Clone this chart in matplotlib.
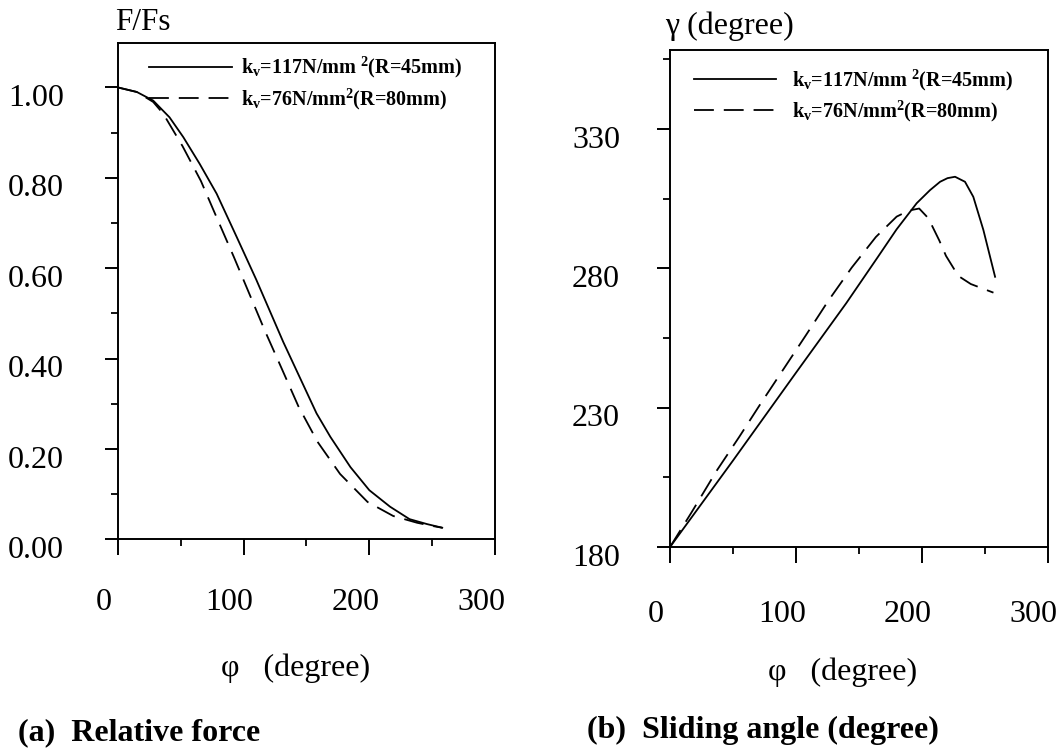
import matplotlib
matplotlib.use("Agg")
import matplotlib.pyplot as plt
from matplotlib.transforms import ScaledTranslation

# ---------------- data ----------------
phi_F_117 = [0, 15, 28, 41, 52, 65, 78.5, 94.5, 110, 131.5, 158, 169, 185, 200, 216.5, 232, 246, 258]
F_117 = [1.000, 0.990, 0.971, 0.934, 0.890, 0.831, 0.765, 0.669, 0.575, 0.437, 0.279, 0.227,
         0.160, 0.109, 0.0725, 0.045, 0.034, 0.026]

phi_F_76 = [0, 15, 28, 36, 51.4, 66, 79.2, 92.2, 117, 130.3, 143.5, 158.8, 176.7, 198.6, 219, 238, 250, 258]
F_76 = [1.000, 0.990, 0.968, 0.942, 0.870, 0.793, 0.708, 0.625, 0.461, 0.378, 0.295, 0.216,
        0.145, 0.083, 0.052, 0.037, 0.030, 0.026]

phi_g_117 = [0, 50, 100, 140, 165, 180, 196, 206.6, 214.6, 220.5, 226.5, 234.4, 241, 249, 258.3]
g_117 = [180, 211, 242.5, 267.5, 284, 294, 303.4, 308.1, 311.1, 312.4, 312.9, 311.1, 305.7, 293.8, 277]

phi_g_76 = [0, 17.2, 37.1, 55.1, 72.5, 90.1, 108.1, 125.8, 144.4, 163.6, 180.1, 190, 198,
            205.3, 214, 219.3, 229.1, 239, 257]
g_76 = [180, 192.5, 207.4, 219.6, 231.8, 243.8, 256.1, 268.4, 280.3, 291.3, 298.6, 300.8, 301.5,
        298, 290, 284.5, 277.3, 274.4, 271.3]

label_117 = r"k$_{v}$=117N/mm $^{2}$(R=45mm)"
label_76 = r"k$_{v}$=76N/mm$^{2}$(R=80mm)"

x_ticks = [0, 100, 200, 300]
x_minor = [50, 150, 250]
F_ticks = [0.0, 0.2, 0.4, 0.6, 0.8, 1.0]
F_minor = [0.1, 0.3, 0.5, 0.7, 0.9]
g_ticks = [180, 230, 280, 330]
g_minor = [205, 255, 305, 355]

# ---------------- style ----------------
plt.rcParams['font.family'] = ['Liberation Serif', 'DejaVu Serif']
plt.rcParams['mathtext.default'] = 'regular'

fig = plt.figure(figsize=(10.62, 7.52), dpi=100)
ax1 = fig.add_axes([0.1111, 0.2826, 0.3550, 0.6606])
ax2 = fig.add_axes([0.6309, 0.2726, 0.3555, 0.6609])

lw = 1.3
dash = (0, (11, 5.5))

def style_axes(ax, yticks, yminor, ylim, xpad, ypad, fmt):
    ax.set_xlim(0, 300)
    ax.set_ylim(*ylim)
    ax.set_xticks(x_ticks)
    ax.set_xticks(x_minor, minor=True)
    ax.set_yticks(yticks)
    ax.set_yticks(yminor, minor=True)
    ax.set_xticklabels([str(v) for v in x_ticks])
    ax.set_yticklabels([fmt.format(v) for v in yticks])
    for s in ax.spines.values():
        s.set_linewidth(1.4)
    ax.tick_params(axis='x', which='major', direction='out', length=11.5, width=1.4,
                   pad=xpad, labelsize=23)
    ax.tick_params(axis='x', which='minor', direction='out', length=5, width=1.3)
    ax.tick_params(axis='y', which='major', direction='out', length=9.4, width=1.4,
                   pad=ypad, labelsize=23)
    ax.tick_params(axis='y', which='minor', direction='out', length=5, width=1.3)
    offx = ScaledTranslation(-0.14, 0, fig.dpi_scale_trans)
    for lab in ax.get_xticklabels():
        lab.set_transform(lab.get_transform() + offx)
    offy = ScaledTranslation(0, -0.075, fig.dpi_scale_trans)
    for lab in ax.get_yticklabels():
        lab.set_transform(lab.get_transform() + offy)

legend_font = {'family': 'Liberation Serif', 'weight': 'bold', 'size': 14.5}

# ---------------- panel (a) ----------------
ax1.plot(phi_F_117, F_117, color='black', lw=lw, label=label_117)
ax1.plot(phi_F_76, F_76, color='black', lw=lw, linestyle=dash, label=label_76)
style_axes(ax1, F_ticks, F_minor, (0, 1.099), 23.5, 29.5, "{:.2f}")
ax1.legend(loc='upper left', bbox_to_anchor=(0.083, 0.975), frameon=False,
           prop=legend_font, handlelength=4.1, handletextpad=0.45, borderpad=0,
           borderaxespad=0, labelspacing=0.3)

# ---------------- panel (b) ----------------
ax2.plot(phi_g_117, g_117, color='black', lw=lw, label=label_117)
ax2.plot(phi_g_76, g_76, color='black', lw=lw, linestyle=dash, label=label_76)
style_axes(ax2, g_ticks, g_minor, (180, 358.4), 27, 26.6, "{:d}")
ax2.legend(loc='upper left', bbox_to_anchor=(0.063, 0.965), frameon=False,
           prop=legend_font, handlelength=4.1, handletextpad=0.8, borderpad=0,
           borderaxespad=0, labelspacing=0.3)

# ---------------- labels ----------------
fig.text(115 / 1062, 1 - 22 / 752, "F/Fs", fontsize=22.5, ha='left', va='center')
fig.text(665 / 1062, 1 - 26 / 752, "\u03b3 (degree)", fontsize=23, ha='left', va='center')
fig.text(296 / 1062, 1 - 668 / 752, "\u03c6   (degree)", fontsize=23, ha='center', va='center')
fig.text(843 / 1062, 1 - 672 / 752, "\u03c6   (degree)", fontsize=23, ha='center', va='center')
fig.text(18 / 1062, 1 - 733 / 752, "(a)  Relative force", fontsize=23, fontweight='bold',
         ha='left', va='center')
fig.text(587 / 1062, 1 - 730 / 752, "(b)  Sliding angle (degree)", fontsize=23,
         fontweight='bold', ha='left', va='center')

fig.savefig("out.png", dpi=100)
